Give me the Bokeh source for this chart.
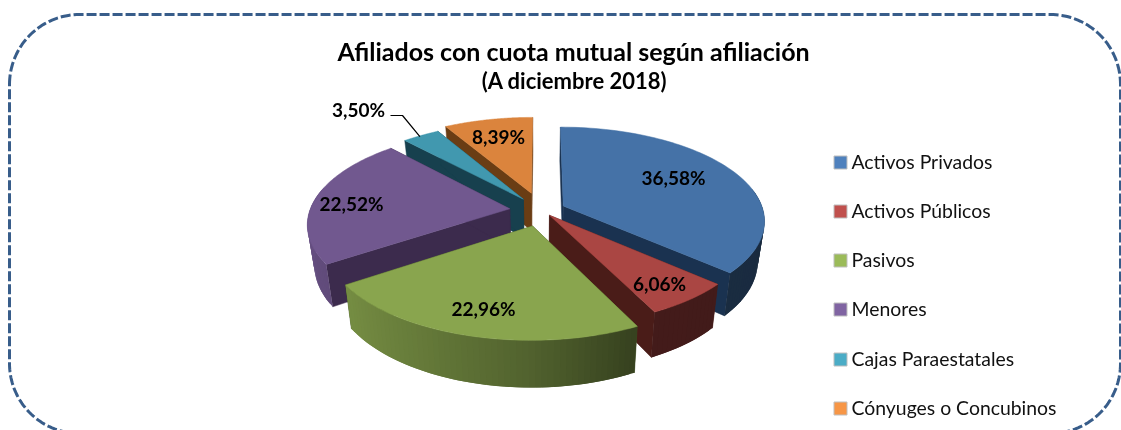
import numpy as np
from bokeh.plotting import figure
from bokeh.models import Range1d
from bokeh.core.properties import value
from bokeh.embed import file_html
from bokeh.resources import INLINE

categories = ["Activos Privados", "Activos Públicos", "Pasivos", "Menores", "Cajas Paraestatales", "Cónyuges o Concubinos"]
shares = [36.58, 6.06, 22.96, 22.52, 3.50, 8.39]
title_lines = ["Afiliados con cuota mutual según afiliación", "(A diciembre 2018)"]

# styling
top_colors = ["#4572A7", "#AA4643", "#89A54E", "#71588F", "#4198AF", "#DB843D"]
legend_colors = ["#4F81BD", "#C0504D", "#9BBB59", "#8064A2", "#4BACC6", "#F79646"]
radial_colors = ["#1A3250", "#4A1C18", "#3E4F20", "#3C2B4D", "#17404E", "#6A3D14"]
explode = [0.12, 0.065, 0.17, 0.16, 0.155, 0.2]
draw_order = [5, 4, 3, 0, 1, 2]
HUB = (541.0, 210.0)
RX, RY, PERSP, DEPTH, SHRINK = 200.0, 92.0, 0.15, 39.0, 0.97
label_pos = [(673, 177), (659, 283), (483, 308), (351, 203), (358, 109), (498, 136)]
FONT = "Lato"


def hex_rgb(h):
    return np.array([int(h[i:i + 2], 16) for i in (1, 3, 5)], float)


def shade(h, f):
    r, g, b = np.clip(hex_rgb(h) * f, 0, 255).astype(int)
    return f"#{r:02x}{g:02x}{b:02x}"


def project(ex, ey, ang, r=1.0, bottom=False):
    """Plane point (slice offset + radius r at angle ang) through a simple perspective."""
    X, Y = ex + r * np.sin(ang), ey + r * np.cos(ang)
    s = 1.0 / (1.0 + PERSP * Y)
    dx, dy = RX * X * s, -RY * Y * s
    if bottom:
        return HUB[0] + dx * SHRINK, HUB[1] + dy + DEPTH * s
    return HUB[0] + dx, HUB[1] + dy


p = figure(width=1121, height=430, output_backend="svg", toolbar_location=None,
           x_range=Range1d(0, 1121), y_range=Range1d(430, 0),
           min_border=0, outline_line_color=None, background_fill_color="white")
p.axis.visible = False
p.grid.visible = False
p.styles = {"position": "fixed", "left": "0", "top": "0"}

# dashed rounded frame
L, R, T, B, C = 9.0, 1120.0, 14.0, 433.0, 70.0
t = np.linspace(0, np.pi / 2, 40)
fx = np.concatenate([L + C - C * np.cos(t), R - C + C * np.sin(t), R - C + C * np.cos(t), L + C - C * np.sin(t), [L]])
fy = np.concatenate([T + C - C * np.sin(t), T + C - C * np.cos(t), B - C + C * np.sin(t), B - C + C * np.cos(t), [T + C]])
p.line(fx, fy, line_color="#385D8A", line_width=3, line_dash=[10, 3])

# pie
edges = np.concatenate([[0], np.cumsum(shares)]) / sum(shares) * 2 * np.pi
offsets = []
for i in range(len(shares)):
    mid = (edges[i] + edges[i + 1]) / 2
    offsets.append((explode[i] * np.sin(mid), explode[i] * np.cos(mid)))

for i in draw_order:
    ex, ey = offsets[i]
    a0, a1 = edges[i], edges[i + 1]
    ax, ay = project(ex, ey, 0.0, 0.0)
    ax2, ay2 = project(ex, ey, 0.0, 0.0, True)
    for a in (a0, a1):
        tx, ty = project(ex, ey, a)
        bx, by = project(ex, ey, a, 1.0, True)
        p.patch([ax, tx, bx, ax2], [ay, ty, by, ay2],
                fill_color=radial_colors[i], line_color=radial_colors[i], line_width=0.5)
    grid = np.linspace(a0, a1, max(3, int((a1 - a0) / np.radians(1.5)) + 1))
    for k in range(len(grid) - 1):
        if np.cos(grid[k]) > 0.2:  # the back of the rim is hidden
            continue
        g0, g1 = grid[k], grid[min(k + 2, len(grid) - 1)]
        tx0, ty0 = project(ex, ey, g0)
        tx1, ty1 = project(ex, ey, g1)
        bx1, by1 = project(ex, ey, g1, 1.0, True)
        bx0, by0 = project(ex, ey, g0, 1.0, True)
        f = np.interp(np.sin(grid[k]), [-1, -0.8, 0, 0.45, 1], [0.9, 0.85, 0.6, 0.4, 0.38])
        p.patch([tx0, tx1, bx1, bx0], [ty0, ty1, by1, by0], fill_color=shade(top_colors[i], f), line_color=None)
    grid = np.linspace(a0, a1, 80)
    tx, ty = project(ex, ey, grid)
    p.patch(np.concatenate([[ax], tx]), np.concatenate([[ay], ty]),
            fill_color=top_colors[i], line_color=top_colors[i], line_width=0.5)

# leader line for the small slice
lab = 4
lx, ly0 = project(*offsets[lab], (edges[lab] + edges[lab + 1]) / 2)
p.line([label_pos[lab][0] + 32, label_pos[lab][0] + 44, lx - 1], [label_pos[lab][1] + 6, label_pos[lab][1] + 6, ly0 + 1],
       line_color="black", line_width=1.2)

# data labels
labels = [f"{v:.2f}".replace(".", ",") + "%" for v in shares]
p.text([q[0] for q in label_pos], [q[1] for q in label_pos], text=labels, text_font=value(FONT),
       text_font_style="bold", text_font_size="19px", text_color="black",
       text_align="center", text_baseline="middle")

# titles
p.text([573], [50], text=[title_lines[0]], text_font=value(FONT), text_font_style="bold",
       text_font_size="25px", text_color="black", text_align="center", text_baseline="middle")
p.text([574], [80], text=[title_lines[1]], text_font=value(FONT), text_font_style="bold",
       text_font_size="22px", text_color="black", text_align="center", text_baseline="middle")

# legend
ly = [162, 211, 260, 309, 359, 408]
p.rect([840] * 6, ly, width=13, height=13, fill_color=legend_colors, line_color="#BFBFBF", line_width=1)
p.text([851] * 6, [v - 1 for v in ly], text=categories, text_font=value(FONT), text_font_size="19.4px",
       text_color="#111111", text_align="left", text_baseline="middle")

open("out.html", "w").write(file_html(p, INLINE))
